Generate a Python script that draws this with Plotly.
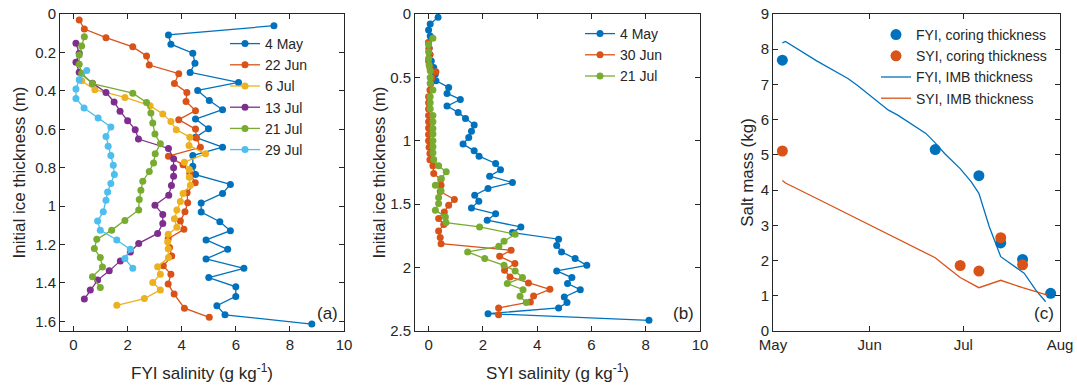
import plotly.graph_objects as go

# ---------------- Panel (a): FYI salinity profiles ----------------
fyi_labels = ["4 May", "22 Jun", "6 Jul", "13 Jul", "21 Jul", "29 Jul"]

fyi_may4_depth = [0.061, 0.109, 0.157, 0.204, 0.256, 0.304, 0.356, 0.398, 0.450, 0.498, 0.547,
                  0.597, 0.642, 0.693, 0.737, 0.792, 0.836, 0.887, 0.934, 0.984, 1.031, 1.081,
                  1.128, 1.176, 1.225, 1.275, 1.324, 1.372, 1.420, 1.470, 1.518, 1.566, 1.614]
fyi_may4_sal = [7.41, 3.51, 3.60, 4.41, 4.49, 4.31, 6.10, 4.59, 5.02, 5.51, 4.51,
                4.99, 4.51, 5.51, 4.41, 4.41, 4.51, 5.80, 5.51, 4.72, 4.72, 5.41,
                5.80, 4.90, 5.70, 4.90, 6.30, 5.00, 6.00, 6.00, 5.30, 5.60, 8.81]

fyi_jun22_depth = [0.031, 0.078, 0.123, 0.171, 0.218, 0.266, 0.311, 0.362, 0.408, 0.455, 0.503,
                   0.550, 0.599, 0.645, 0.694, 0.740, 0.785, 0.830, 0.879, 0.930, 0.982, 1.029,
                   1.078, 1.121, 1.170, 1.215, 1.259, 1.311, 1.354, 1.406, 1.458, 1.531, 1.579]
fyi_jun22_sal = [0.21, 0.40, 1.20, 2.19, 2.70, 2.80, 3.89, 3.73, 4.19, 4.16, 4.51,
                 3.89, 4.51, 4.55, 4.69, 3.51, 4.05, 4.30, 4.50, 4.20, 4.22, 4.12,
                 3.95, 4.08, 3.50, 3.55, 3.63, 3.32, 3.60, 3.50, 3.72, 4.10, 5.02]

fyi_jul6_depth = [0.348, 0.394, 0.434, 0.477, 0.520, 0.560, 0.602, 0.641, 0.684, 0.728, 0.771,
                  0.810, 0.850, 0.891, 0.934, 0.976, 1.020, 1.066, 1.110, 1.147, 1.185, 1.222,
                  1.268, 1.315, 1.355, 1.398, 1.436, 1.481, 1.516]
fyi_jul6_sal = [0.30, 0.79, 1.90, 2.83, 3.30, 3.60, 3.80, 4.30, 4.27, 4.88, 4.10,
                4.28, 4.28, 4.32, 4.05, 3.95, 3.82, 3.73, 3.82, 3.50, 3.48, 3.50,
                3.51, 3.11, 3.21, 2.93, 3.21, 2.62, 1.60]

fyi_jul13_depth = [0.152, 0.204, 0.251, 0.303, 0.360, 0.408, 0.458, 0.506, 0.555, 0.602, 0.651,
                   0.700, 0.753, 0.800, 0.844, 0.893, 0.943, 0.995, 1.043, 1.090, 1.142, 1.194,
                   1.239, 1.285, 1.337, 1.385, 1.436, 1.484]
fyi_jul13_sal = [0.09, 0.21, 0.09, 0.21, 0.70, 1.20, 1.50, 1.72, 2.00, 2.28, 2.40,
                 3.51, 3.70, 3.70, 3.70, 3.62, 3.52, 3.01, 3.30, 3.30, 3.11, 2.41,
                 2.10, 1.73, 1.32, 0.89, 0.62, 0.40]

fyi_jul21_depth = [0.118, 0.166, 0.214, 0.262, 0.310, 0.362, 0.412, 0.460, 0.515, 0.567, 0.625,
                   0.675, 0.727, 0.775, 0.820, 0.870, 0.917, 0.965, 1.020, 1.075, 1.125, 1.173,
                   1.221, 1.268, 1.317, 1.367, 1.424]
fyi_jul21_sal = [0.40, 0.30, 0.21, 0.21, 0.30, 0.70, 2.19, 2.70, 2.86, 2.93, 3.01,
                 3.21, 3.02, 2.96, 2.80, 2.56, 2.49, 2.43, 2.41, 1.90, 1.41, 0.86,
                 0.77, 0.99, 1.07, 0.70, 0.99]

fyi_jul29_depth = [0.294, 0.342, 0.391, 0.440, 0.489, 0.541, 0.588, 0.637, 0.689, 0.737, 0.787,
                   0.836, 0.882, 0.927, 0.969, 1.029, 1.078, 1.125, 1.176, 1.225, 1.273, 1.324]
fyi_jul29_sal = [0.49, 0.21, 0.09, 0.09, 0.39, 0.91, 1.38, 1.20, 1.28, 1.38, 1.47,
                 1.51, 1.38, 1.26, 1.20, 1.10, 0.89, 0.99, 1.60, 2.10, 1.90, 2.19]

# ---------------- Panel (b): SYI salinity profiles ----------------
syi_labels = ["4 May", "30 Jun", "21 Jul"]

syi_may4_depth = [0.026, 0.079, 0.126, 0.174, 0.224, 0.271, 0.320, 0.370, 0.421, 0.474,
                  0.526, 0.579, 0.626, 0.674, 0.726, 0.776, 0.824, 0.876, 0.924, 0.974,
                  1.026, 1.079, 1.121, 1.179, 1.229, 1.279, 1.329, 1.376, 1.429, 1.476,
                  1.529, 1.576, 1.626, 1.679, 1.724, 1.776, 1.826, 1.876, 1.929, 1.982,
                  2.026, 2.079, 2.126, 2.174, 2.232, 2.276, 2.318, 2.363, 2.416]
syi_may4_sal = [0.35, 0.06, 0.00, 0.06, 0.00, 0.02, 0.05, 0.10, 0.19, 0.25,
                0.27, 0.74, 0.68, 1.17, 0.68, 1.09, 1.36, 1.68, 1.58, 1.48,
                1.27, 1.68, 1.86, 2.47, 2.65, 2.25, 3.09, 2.19, 1.70, 1.85,
                1.58, 2.47, 2.16, 3.40, 3.09, 4.79, 4.72, 4.90, 5.40, 5.83,
                4.72, 5.28, 5.12, 5.59, 5.00, 5.10, 4.79, 2.19, 8.12]

syi_jun30_depth = [0.224, 0.271, 0.320, 0.370, 0.421, 0.455, 0.505, 0.550, 0.600, 0.653,
                   0.700, 0.750, 0.800, 0.850, 0.900, 0.950, 1.000, 1.050, 1.100, 1.150,
                   1.197, 1.258, 1.305, 1.350, 1.400, 1.463, 1.508, 1.561, 1.613, 1.661,
                   1.711, 1.763, 1.811, 1.863, 1.911, 1.968, 2.021, 2.074, 2.121, 2.171,
                   2.224, 2.271, 2.318, 2.371]
syi_jun30_sal = [0.00, 0.02, 0.05, 0.00, 0.05, 0.27, 0.12, 0.08, 0.05, 0.00,
                 0.00, 0.00, 0.00, 0.00, 0.00, 0.00, 0.00, 0.02, 0.05, 0.05,
                 0.16, 0.19, 0.45, 0.46, 0.43, 0.95, 0.74, 0.58, 0.37, 0.56,
                 0.37, 0.43, 0.46, 3.04, 2.62, 3.18, 2.80, 3.00, 3.68, 4.47,
                 3.87, 3.75, 2.58, 2.58]

syi_jul21_depth = [0.192, 0.240, 0.297, 0.350, 0.403, 0.447, 0.500, 0.547, 0.600, 0.653,
                   0.700, 0.747, 0.800, 0.850, 0.903, 0.947, 1.000, 1.047, 1.095, 1.147,
                   1.197, 1.245, 1.297, 1.350, 1.395, 1.447, 1.495, 1.547, 1.600, 1.645,
                   1.679, 1.737, 1.792, 1.832, 1.876, 1.929, 1.982, 2.026, 2.079, 2.126,
                   2.174, 2.226, 2.276]
syi_jul21_sal = [0.16, 0.00, 0.00, 0.00, 0.02, 0.06, 0.06, 0.06, 0.16, 0.06,
                 0.06, 0.06, 0.16, 0.16, 0.16, 0.16, 0.16, 0.16, 0.16, 0.19,
                 0.37, 0.65, 0.47, 0.25, 0.46, 0.37, 0.37, 0.25, 0.62, 0.64,
                 1.88, 3.19, 2.78, 2.59, 1.44, 2.07, 2.78, 3.19, 3.46, 2.90,
                 3.48, 3.37, 3.60]

# ---------------- Panel (c): salt mass ----------------
fyi_core_dates = ["2019-05-04", "2019-06-22", "2019-07-06", "2019-07-13", "2019-07-20", "2019-07-29"]
fyi_core_salt = [7.69, 5.15, 4.41, 2.50, 2.03, 1.07]
syi_core_dates = ["2019-05-04", "2019-06-30", "2019-07-06", "2019-07-13", "2019-07-20"]
syi_core_salt = [5.11, 1.86, 1.70, 2.65, 1.88]

fyi_imb_dates = ["2019-05-04", "2019-05-05", "2019-05-15", "2019-05-25", "2019-05-28", "2019-06-07",
                 "2019-06-10", "2019-06-14", "2019-06-19", "2019-06-22", "2019-06-25", "2019-06-30",
                 "2019-07-03 12:00", "2019-07-06", "2019-07-09 08:00", "2019-07-13", "2019-07-16 20:00",
                 "2019-07-20 12:00", "2019-07-24 06:00", "2019-07-27 10:00"]
fyi_imb_salt = [8.18, 8.22, 7.67, 7.17, 6.98, 6.27,
                6.13, 5.89, 5.61, 5.34, 5.04, 4.61,
                4.24, 3.91, 2.96, 2.11, 1.87,
                1.64, 1.16, 0.83]

syi_imb_dates = ["2019-05-04", "2019-05-05", "2019-05-16", "2019-06-01", "2019-06-15", "2019-06-22",
                 "2019-06-25 12:00", "2019-06-30", "2019-07-06", "2019-07-13", "2019-07-20", "2019-07-28"]
syi_imb_salt = [4.27, 4.20, 3.72, 3.01, 2.40, 2.08,
                1.83, 1.52, 1.23, 1.44, 1.23, 1.02]

month_ticks = ["2019-05-01", "2019-06-01", "2019-07-01", "2019-08-01"]
month_labels = ["May", "Jun", "Jul", "Aug"]

# ---------------- styling ----------------
W, H = 1077, 390
colors = ["#0072BD", "#D95319", "#EDB120", "#7E2F8E", "#77AC30", "#4DBEEE"]
FONT = "Liberation Sans, Arial, sans-serif"
AX = "#262626"


def fx(p):
    return p / W


def fy(p):
    return 1 - p / H


fig = go.Figure()

fyi_sets = [(fyi_may4_sal, fyi_may4_depth), (fyi_jun22_sal, fyi_jun22_depth),
            (fyi_jul6_sal, fyi_jul6_depth), (fyi_jul13_sal, fyi_jul13_depth),
            (fyi_jul21_sal, fyi_jul21_depth), (fyi_jul29_sal, fyi_jul29_depth)]
for i, (lab, (s, d)) in enumerate(zip(fyi_labels, fyi_sets)):
    fig.add_trace(go.Scatter(x=s, y=d, mode="lines+markers", name=lab,
                             line=dict(color=colors[i], width=1.3),
                             marker=dict(size=7, color=colors[i]),
                             xaxis="x", yaxis="y", legend="legend"))

syi_sets = [(syi_may4_sal, syi_may4_depth), (syi_jun30_sal, syi_jun30_depth),
            (syi_jul21_sal, syi_jul21_depth)]
syi_colors = [colors[0], colors[1], colors[4]]
for lab, (s, d), c in zip(syi_labels, syi_sets, syi_colors):
    fig.add_trace(go.Scatter(x=s, y=d, mode="lines+markers", name=lab,
                             line=dict(color=c, width=1.3),
                             marker=dict(size=7, color=c),
                             xaxis="x2", yaxis="y2", legend="legend2"))

fig.add_trace(go.Scatter(x=fyi_core_dates, y=fyi_core_salt, mode="markers",
                         name="FYI, coring thickness", marker=dict(size=11, color=colors[0]),
                         xaxis="x3", yaxis="y3", legend="legend3"))
fig.add_trace(go.Scatter(x=syi_core_dates, y=syi_core_salt, mode="markers",
                         name="SYI, coring thickness", marker=dict(size=11, color=colors[1]),
                         xaxis="x3", yaxis="y3", legend="legend3"))
fig.add_trace(go.Scatter(x=fyi_imb_dates, y=fyi_imb_salt, mode="lines",
                         name="FYI, IMB thickness", line=dict(color=colors[0], width=1.3),
                         xaxis="x3", yaxis="y3", legend="legend3"))
fig.add_trace(go.Scatter(x=syi_imb_dates, y=syi_imb_salt, mode="lines",
                         name="SYI, IMB thickness", line=dict(color=colors[1], width=1.3),
                         xaxis="x3", yaxis="y3", legend="legend3"))

common = dict(showline=True, linecolor=AX, linewidth=1, mirror="ticks", ticks="inside",
              ticklen=5, tickcolor=AX, showgrid=False, zeroline=False, automargin=False,
              tickfont=dict(size=15, color=AX, family=FONT))
title_font = dict(size=17, color=AX, family=FONT)
ydom = [fy(331), fy(14)]

legend_common = dict(bgcolor="rgba(0,0,0,0)", borderwidth=0, xanchor="left", yanchor="top",
                     font=dict(size=14, color=AX, family=FONT), itemwidth=30, tracegroupgap=0)

fig.update_layout(
    template="none",
    width=W, height=H,
    margin=dict(l=0, r=0, t=0, b=0, autoexpand=False),
    paper_bgcolor="white", plot_bgcolor="white",
    font=dict(family=FONT, color=AX),
    xaxis=dict(domain=[fx(60), fx(344)], range=[-0.5, 10], dtick=2, anchor="y",
               title=dict(text="FYI salinity (g kg<sup>-1</sup>)", font=title_font, standoff=15), **common),
    yaxis=dict(domain=ydom, range=[1.65, 0], dtick=0.2, anchor="x",
               title=dict(text="Initial ice thickness (m)", font=title_font, standoff=5), **common),
    xaxis2=dict(domain=[fx(415), fx(700)], range=[-0.5, 10], dtick=2, anchor="y2",
                title=dict(text="SYI salinity (g kg<sup>-1</sup>)", font=title_font, standoff=15), **common),
    yaxis2=dict(domain=ydom, range=[2.5, 0], dtick=0.5, anchor="x2",
                title=dict(text="Initial ice thickness (m)", font=title_font, standoff=0), **common),
    xaxis3=dict(domain=[fx(773), fx(1060)], type="date", range=["2019-05-01", "2019-08-01"],
                tickvals=month_ticks, ticktext=month_labels, anchor="y3", **common),
    yaxis3=dict(domain=ydom, range=[0, 9], dtick=1, anchor="x3",
                title=dict(text="Salt mass (kg)", font=title_font, standoff=2), **common),
    legend=dict(x=fx(225), y=fy(28), **legend_common),
    legend2=dict(x=fx(580), y=fy(18), **legend_common),
    legend3=dict(x=fx(876), y=fy(19), **legend_common),
    showlegend=True,
)

for ref, lab in [("", "(a)"), ("2", "(b)"), ("3", "(c)")]:
    fig.add_annotation(text=lab, xref=f"x{ref} domain", yref=f"y{ref} domain",
                       x=0.985, y=0.02, xanchor="right", yanchor="bottom", showarrow=False,
                       font=dict(size=17, color=AX, family=FONT))

fig.write_html("out.html", config={"displayModeBar": False},
               post_script="document.body.style.margin='0px';")
